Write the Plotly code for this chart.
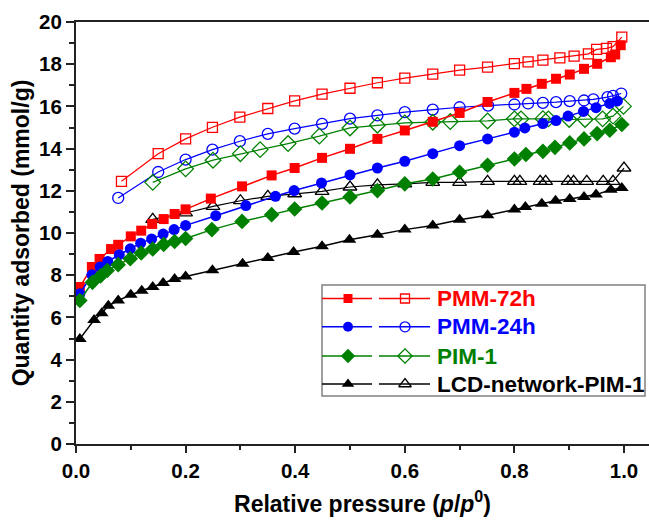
import plotly.graph_objects as go

# ---------------- data ----------------
series_names = ["PMM-72h", "PMM-24h", "PIM-1", "LCD-network-PIM-1"]
colors = ["#FF0000", "#0000FF", "#008000", "#000000"]
symbols = ["square", "circle", "diamond", "triangle-up"]

x_ads_72 = [0.007, 0.029, 0.043, 0.064, 0.077, 0.10, 0.119, 0.139, 0.16, 0.18, 0.20, 0.246, 0.303, 0.357, 0.399,
            0.449, 0.50, 0.55, 0.60, 0.651, 0.70, 0.751, 0.80, 0.822, 0.85, 0.876, 0.901, 0.927, 0.951, 0.976, 0.984, 0.994]
y_ads_72 = [7.44, 8.39, 8.77, 9.24, 9.44, 9.84, 10.11, 10.43, 10.66, 10.90, 11.12, 11.63, 12.21, 12.73, 13.08,
            13.56, 13.99, 14.46, 14.86, 15.27, 15.69, 16.21, 16.64, 16.83, 17.07, 17.31, 17.51, 17.78, 18.02, 18.33, 18.46, 18.90]
x_des_72 = [0.083, 0.150, 0.200, 0.249, 0.299, 0.350, 0.399, 0.449, 0.50, 0.55, 0.60, 0.651, 0.70, 0.751, 0.80,
            0.825, 0.852, 0.883, 0.909, 0.935, 0.95, 0.968, 0.98, 0.996]
y_des_72 = [12.45, 13.76, 14.46, 15.01, 15.49, 15.90, 16.26, 16.58, 16.86, 17.12, 17.34, 17.53, 17.72, 17.86, 18.03,
            18.11, 18.19, 18.30, 18.38, 18.49, 18.70, 18.75, 18.83, 19.28]

x_ads_24 = [0.007, 0.029, 0.044, 0.058, 0.079, 0.099, 0.118, 0.138, 0.159, 0.179, 0.20, 0.255, 0.31, 0.364, 0.398,
            0.448, 0.50, 0.55, 0.60, 0.651, 0.70, 0.751, 0.80, 0.819, 0.852, 0.876, 0.898, 0.926, 0.949, 0.974, 0.988]
y_ads_24 = [7.12, 8.02, 8.39, 8.65, 8.97, 9.25, 9.52, 9.72, 9.95, 10.16, 10.36, 10.82, 11.30, 11.74, 12.01,
            12.37, 12.75, 13.08, 13.40, 13.76, 14.14, 14.46, 14.78, 14.98, 15.19, 15.33, 15.54, 15.76, 15.94, 16.14, 16.26]
x_des_24 = [0.077, 0.150, 0.200, 0.249, 0.299, 0.350, 0.399, 0.449, 0.50, 0.55, 0.60, 0.651, 0.70, 0.752, 0.80,
            0.825, 0.852, 0.876, 0.901, 0.927, 0.944, 0.97, 0.98, 0.995]
y_des_24 = [11.66, 12.89, 13.48, 13.95, 14.35, 14.70, 14.95, 15.17, 15.42, 15.57, 15.73, 15.85, 15.96, 16.04, 16.09,
            16.14, 16.17, 16.20, 16.25, 16.28, 16.33, 16.44, 16.50, 16.61]

x_ads_pim = [0.007, 0.03, 0.045, 0.057, 0.077, 0.099, 0.119, 0.14, 0.16, 0.18, 0.20, 0.248, 0.303, 0.357, 0.399,
             0.449, 0.50, 0.55, 0.60, 0.651, 0.70, 0.751, 0.80, 0.821, 0.852, 0.874, 0.901, 0.927, 0.951, 0.974, 0.996]
y_ads_pim = [6.80, 7.66, 7.97, 8.22, 8.50, 8.78, 9.05, 9.24, 9.46, 9.60, 9.74, 10.16, 10.55, 10.87, 11.14,
             11.42, 11.71, 12.01, 12.33, 12.56, 12.88, 13.21, 13.51, 13.72, 13.87, 14.06, 14.27, 14.46, 14.71, 14.87, 15.14]
x_des_pim = [0.14, 0.20, 0.25, 0.30, 0.336, 0.387, 0.444, 0.50, 0.55, 0.60, 0.651, 0.683, 0.751, 0.80, 0.812,
             0.852, 0.862, 0.90, 0.929, 0.961, 0.98, 0.999]
y_des_pim = [12.40, 13.04, 13.45, 13.76, 13.95, 14.24, 14.59, 14.98, 15.11, 15.22, 15.25, 15.28, 15.31, 15.41, 15.41,
             15.42, 15.41, 15.38, 15.38, 15.41, 15.54, 16.00]

x_ads_lcd = [0.007, 0.033, 0.047, 0.059, 0.077, 0.10, 0.12, 0.14, 0.159, 0.18, 0.20, 0.249, 0.304, 0.35, 0.397,
             0.449, 0.499, 0.55, 0.60, 0.651, 0.70, 0.751, 0.80, 0.82, 0.85, 0.875, 0.901, 0.927, 0.949, 0.976, 0.996]
y_ads_lcd = [4.98, 5.88, 6.20, 6.55, 6.80, 7.07, 7.26, 7.44, 7.63, 7.82, 7.94, 8.23, 8.54, 8.82, 9.10,
             9.37, 9.68, 9.92, 10.16, 10.36, 10.63, 10.84, 11.11, 11.23, 11.39, 11.53, 11.61, 11.71, 11.82, 12.05, 12.13]
x_des_lcd = [0.14, 0.20, 0.25, 0.30, 0.35, 0.399, 0.449, 0.50, 0.55, 0.60, 0.651, 0.70, 0.751, 0.80, 0.81,
             0.847, 0.857, 0.898, 0.908, 0.932, 0.962, 0.98, 1.0]
y_des_lcd = [10.65, 10.95, 11.26, 11.53, 11.74, 11.86, 11.97, 12.18, 12.28, 12.33, 12.40, 12.40, 12.45, 12.45, 12.45,
             12.45, 12.45, 12.45, 12.45, 12.45, 12.45, 12.45, 13.08]

ads = [(x_ads_72, y_ads_72), (x_ads_24, y_ads_24), (x_ads_pim, y_ads_pim), (x_ads_lcd, y_ads_lcd)]
des = [(x_des_72, y_des_72), (x_des_24, y_des_24), (x_des_pim, y_des_pim), (x_des_lcd, y_des_lcd)]

x_ticks = [0.0, 0.2, 0.4, 0.6, 0.8, 1.0]
y_ticks = [0, 2, 4, 6, 8, 10, 12, 14, 16, 18, 20]

FONT = "Arial, Liberation Sans, Helvetica, sans-serif"
msize = {"square": 10, "circle": 11, "diamond": 12, "triangle-up": 12}

fig = go.Figure()

order = [3, 0, 1, 2]
for i in order:
    xd, yd = des[i]
    fig.add_trace(go.Scatter(
        x=xd, y=yd, mode="lines+markers", showlegend=False,
        line=dict(color=colors[i], width=1.2),
        marker=dict(symbol=symbols[i] + "-open", size=msize[symbols[i]],
                    color=colors[i], line=dict(width=1.3, color=colors[i])),
    ))
for i in order:
    xa, ya = ads[i]
    fig.add_trace(go.Scatter(
        x=xa, y=ya, mode="lines+markers", showlegend=False,
        line=dict(color=colors[i], width=1.5),
        marker=dict(symbol=symbols[i], size=msize[symbols[i]], color=colors[i],
                    line=dict(width=0)),
    ))

# ---------------- manual legend (pixel-like overlay axes) ----------------
PW, PH = 573, 422  # plot area size in px
box = dict(x0=246, x1=569, y0=263, y1=374)  # relative to plot-area top-left
row_y = [276.5, 304.8, 334, 362]
seg1 = (246, 296)
seg2 = (303, 354)
mk1, mk2 = 272, 329
label_x = 359

fig.add_shape(type="rect", xref="x2", yref="y2", x0=box["x0"], x1=box["x1"],
              y0=box["y0"], y1=box["y1"], line=dict(color="#808080", width=1.5),
              fillcolor="white", layer="below")
for i, name in enumerate(series_names):
    yy = row_y[i]
    for (a, b) in (seg1, seg2):
        fig.add_trace(go.Scatter(x=[a, b], y=[yy, yy], mode="lines", xaxis="x2", yaxis="y2",
                                 showlegend=False, hoverinfo="skip",
                                 line=dict(color=colors[i], width=1.5)))
    fig.add_trace(go.Scatter(x=[mk1], y=[yy], mode="markers", xaxis="x2", yaxis="y2",
                             showlegend=False, hoverinfo="skip",
                             marker=dict(symbol=symbols[i], size=msize[symbols[i]] - 1, color=colors[i])))
    fig.add_trace(go.Scatter(x=[mk2], y=[yy], mode="markers", xaxis="x2", yaxis="y2",
                             showlegend=False, hoverinfo="skip",
                             marker=dict(symbol=symbols[i] + "-open", size=msize[symbols[i]] - 1,
                                         color=colors[i], line=dict(width=1.3, color=colors[i]))))
    fig.add_annotation(x=label_x, y=yy, xref="x2", yref="y2", text=name, showarrow=False,
                       xanchor="left", yanchor="middle",
                       font=dict(family=FONT, size=22.5, color=colors[i], weight="bold"))

fig.update_layout(
    width=649, height=521,
    margin=dict(l=76, r=0, t=22, b=77, autoexpand=False),
    paper_bgcolor="white", plot_bgcolor="white",
    font=dict(family=FONT, size=20, color="black", weight="bold"),
    xaxis=dict(
        range=[0, 573 / 548], tickvals=x_ticks, ticktext=[f"{v:.1f}" for v in x_ticks],
        showgrid=False, zeroline=False, showline=True, linecolor="#222", linewidth=2,
        mirror=True, ticks="outside", ticklen=7, tickwidth=1.5, tickcolor="#222",
        minor=dict(dtick=0.1, tick0=0, ticks="outside", ticklen=4, tickwidth=1.5, tickcolor="#222"),
        tickfont=dict(family=FONT, size=20.5, weight="bold"), automargin=False,
        title=dict(text="Relative pressure (<i>p</i>/<i>p</i><sup>0</sup>)", standoff=15,
                   font=dict(family=FONT, size=23, weight="bold")),
    ),
    yaxis=dict(
        range=[0, 20], tickvals=y_ticks, ticktext=[str(v) for v in y_ticks],
        showgrid=False, zeroline=False, showline=True, linecolor="#222", linewidth=2,
        ticks="outside", ticklen=8, tickwidth=1.5, tickcolor="#222",
        minor=dict(dtick=1, tick0=0, ticks="outside", ticklen=5, tickwidth=1.5, tickcolor="#222"),
        tickfont=dict(family=FONT, size=20.5, weight="bold"), automargin=False,
        title=dict(text="Quantity adsorbed (mmol/g)", standoff=3,
                   font=dict(family=FONT, size=23, weight="bold")),
    ),
    xaxis2=dict(domain=[0, 1], range=[0, PW], overlaying="x", visible=False, fixedrange=True),
    yaxis2=dict(domain=[0, 1], range=[PH, 0], overlaying="y", visible=False, fixedrange=True),
)

fig.write_html("out.html", config={"displayModeBar": False},
               post_script="document.body.style.margin='0';document.body.style.overflow='hidden';")
